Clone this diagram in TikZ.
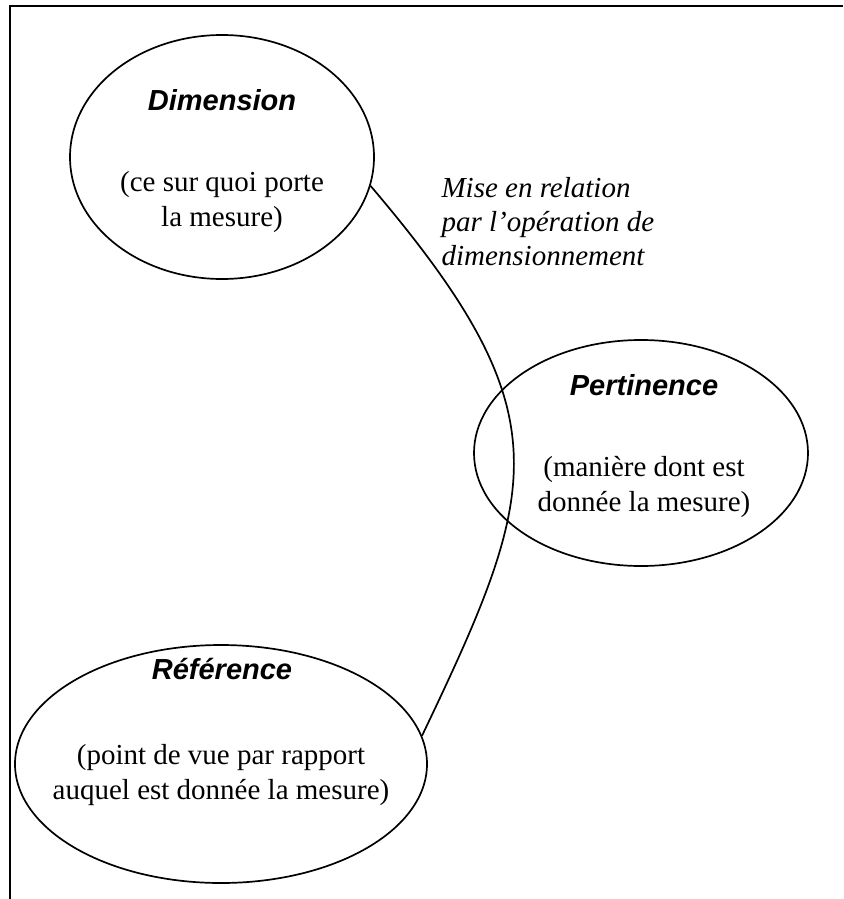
\documentclass[tikz,border=0pt]{standalone}
\usepackage{fontspec}
\setmainfont{Liberation Serif}
\newfontfamily\titfont{Liberation Sans}
\usetikzlibrary{shapes.geometric}

\begin{document}
\begin{tikzpicture}[x=1pt, y=-1pt,
    elipse/.style={draw, ellipse, line width=1.7pt, inner sep=0pt},
    titulo/.style={anchor=base, font=\fontsize{29}{35}\selectfont\titfont\bfseries\itshape},
    texto/.style={anchor=base, align=center, font=\fontsize{29}{35}\selectfont}]

    \useasboundingbox (0, 0) rectangle (843, 899);

    % Marco
    \draw[line width=2.4pt] (10, 899) -- (10, 6) -- (843, 6);

    % Elipses
    \node[elipse, minimum width=304pt, minimum height=244pt] (dim) at (222, 157) {};
    \node[elipse, minimum width=334pt, minimum height=226pt] (pert) at (641, 453) {};
    \node[elipse, minimum width=412pt, minimum height=238pt] (ref) at (221, 764) {};

    % Títulos
    \node[titulo] (dimtit) at (222, 110) {Dimension};
    \node[titulo] (perttit) at (644, 395) {Pertinence};
    \node[titulo] (reftit) at (222, 679) {Référence};

    % Textos (la base es la última línea)
    \node[texto] (dimtxt) at (222, 226) {(ce sur quoi porte\\la mesure)};
    \node[texto] (perttxt) at (644, 511) {(manière dont est\\donnée la mesure)};
    \node[texto] (reftxt) at (221, 799) {(point de vue par rapport\\auquel est donnée la mesure)};
    \node[anchor=base west, align=left, font=\fontsize{29}{34}\selectfont\itshape] (rel) at (438, 265)
        {Mise en relation\\par l’opération de\\dimensionnement};

    % Curva
    \draw[line width=1.7pt] (dim.-11) .. controls +(194, 228) and +(119, -249) .. (ref.8);

\end{tikzpicture}
\end{document}
